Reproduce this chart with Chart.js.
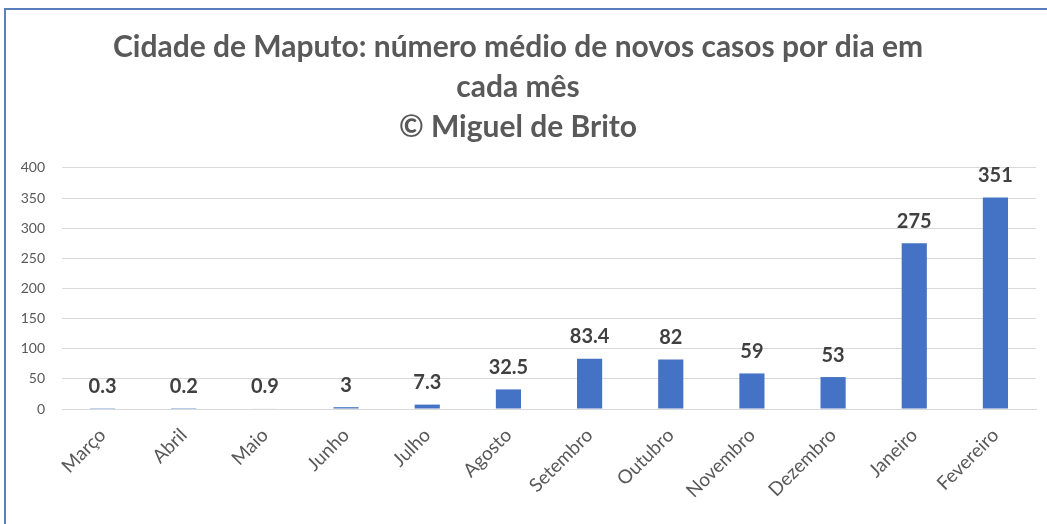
<!DOCTYPE html>
<html>
<head>
<meta charset="utf-8">
<script src="https://cdn.jsdelivr.net/npm/chart.js@4.4.0/dist/chart.umd.min.js"></script>
<style>
  html, body { margin: 0; padding: 0; background: #ffffff; }
  #wrap { position: relative; width: 1047px; height: 524px; overflow: hidden; }
  #frame { position: absolute; left: 4px; top: 8px; right: -10px; bottom: -10px;
           border-top: 2px solid #5a7fbf; border-left: 2px solid #5a7fbf; pointer-events: none; }
  canvas { position: absolute; left: 0; top: 0; }
</style>
</head>
<body>
<div id="wrap">
  <canvas id="c" width="1047" height="524"></canvas>
  <div id="frame"></div>
</div>
<script>
const titleLines = ["Cidade de Maputo: número médio de novos casos por dia em", "cada mês", "© Miguel de Brito"];
const categories = ["Março", "Abril", "Maio", "Junho", "Julho", "Agosto", "Setembro", "Outubro", "Novembro", "Dezembro", "Janeiro", "Fevereiro"];
const values = [0.3, 0.2, 0.9, 3, 7.3, 32.5, 83.4, 82, 59, 53, 275, 351];
const valueLabels = ["0.3", "0.2", "0.9", "3", "7.3", "32.5", "83.4", "82", "59", "53", "275", "351"];
const yTicks = [0, 50, 100, 150, 200, 250, 300, 350, 400];

const FONT = "Lato, 'Open Sans', 'DejaVu Sans', sans-serif";

const labelPlugin = {
  id: 'barLabels',
  afterDatasetsDraw(chart) {
    const ctx = chart.ctx;
    const meta = chart.getDatasetMeta(0);
    ctx.save();
    ctx.font = "bold 20px " + FONT;
    ctx.fillStyle = "#404040";
    ctx.textAlign = "center";
    ctx.textBaseline = "middle";
    meta.data.forEach((bar, i) => {
      ctx.fillText(valueLabels[i], bar.x, bar.y - 22);
    });
    ctx.restore();
  }
};

new Chart(document.getElementById('c'), {
  type: 'bar',
  data: {
    labels: categories,
    datasets: [{
      data: values,
      backgroundColor: '#4472C4',
      borderWidth: 0,
      barPercentage: 0.62,
      categoryPercentage: 0.5
    }]
  },
  options: {
    responsive: false,
    animation: false,
    devicePixelRatio: 1,
    layout: { padding: { left: 0, right: 11, top: 0, bottom: 0 } },
    plugins: {
      legend: { display: false },
      tooltip: { enabled: false },
      title: {
        display: true,
        text: titleLines,
        color: '#595959',
        font: { family: FONT, size: 30, weight: 'bold', lineHeight: 1.333 },
        padding: { top: 27, bottom: 21 }
      }
    },
    scales: {
      x: {
        grid: { display: false, drawTicks: false },
        border: { display: true, color: '#d9d9d9', width: 1 },
        ticks: {
          color: '#595959',
          font: { family: FONT, size: 19 },
          minRotation: 45, maxRotation: 45,
          padding: 15
        },
        afterFit(scale) { scale.height = 115; }
      },
      y: {
        min: 0, max: 400,
        afterBuildTicks(scale) { scale.ticks = yTicks.map(v => ({ value: v })); },
        grid: { color: '#d9d9d9', lineWidth: 1, drawTicks: false },
        border: { display: false },
        ticks: {
          color: '#595959',
          font: { family: FONT, size: 14 },
          padding: 17
        },
        afterFit(scale) { scale.width = 62; }
      }
    }
  },
  plugins: [labelPlugin]
});
</script>
</body>
</html>
